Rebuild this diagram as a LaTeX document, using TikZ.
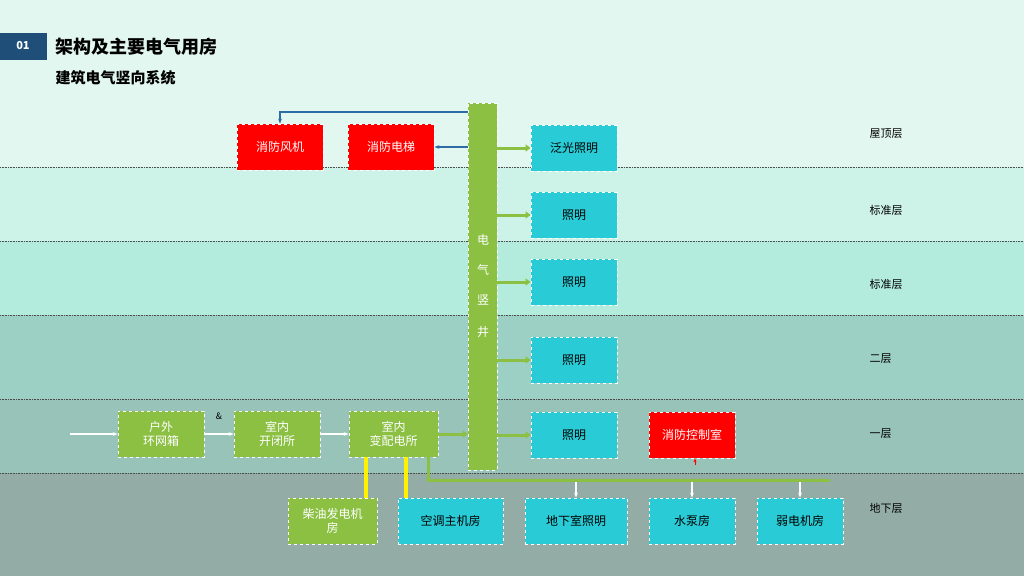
\documentclass[tikz,border=0pt]{standalone}
\usepackage{fontspec}
\setmainfont{Noto Sans CJK SC}
\usetikzlibrary{arrows.meta}
\definecolor{gr}{HTML}{8BC043}
\definecolor{cy}{HTML}{29CCD6}
\definecolor{rd}{HTML}{FF0000}
\definecolor{bl}{HTML}{2E6DA4}
\definecolor{nb}{HTML}{1F4E79}
\definecolor{b1}{HTML}{E3F7F1}
\definecolor{b2}{HTML}{CDF3E8}
\definecolor{b3}{HTML}{B3ECDD}
\definecolor{b4}{HTML}{9DD0C4}
\definecolor{b5}{HTML}{97C3B8}
\definecolor{b6}{HTML}{93ADA6}
\begin{document}
\begin{tikzpicture}[x=1pt,y=-1pt,
 box/.style={draw=white,dashed,line width=0.8pt,minimum width=#1,minimum height=46pt,inner sep=0pt,font=\fontsize{12}{14}\selectfont,align=center},
 gbox/.style={box=#1,fill=gr,text=white},
 cbox/.style={box=#1,fill=cy,text=black},
 rbox/.style={box=#1,fill=rd,text=white},
 ga/.style={gr,line width=3pt,-{Triangle[length=5pt,width=7pt]}},
 wa/.style={white,line width=1.2pt,-{Stealth[length=5pt]}},
 fl/.style={font=\fontsize{11}{13}\selectfont,anchor=west},
 sep/.style={densely dotted,black!70,line width=0.6pt}]
\useasboundingbox (0,0) rectangle (1024,576);
\fill[b1] (0,0) rectangle (1024,167);
\fill[b2] (0,167) rectangle (1024,241);
\fill[b3] (0,241) rectangle (1024,315);
\fill[b4] (0,315) rectangle (1024,399);
\fill[b5] (0,399) rectangle (1024,473);
\fill[b6] (0,473) rectangle (1024,576);
\foreach \y in {167,241,315,399,473} \draw[sep] (0,\y) -- (1024,\y);
\fill[nb] (0,33) rectangle (47,60);
\node[text=white,font=\fontsize{11}{13}\selectfont\bfseries] (num) at (23,46) {01};
\node[anchor=west,font=\fontsize{18}{20}\selectfont\bfseries] (t1) at (52,47) {架构及主要电气用房};
\node[anchor=west,font=\fontsize{15}{17}\selectfont\bfseries] (t2) at (52,78) {建筑电气竖向系统};
% shaft
\node[draw=white,dashed,fill=gr,minimum width=29pt,minimum height=367pt,inner sep=0pt] (sh) at (482.5,286.5) {};
\foreach \c/\y in {电/240,气/270,竖/300,井/332} \node[text=white,font=\fontsize{12}{14}\selectfont] at (483,\y) {\c};
% nodes
\node[rbox=86pt] (fj) at (280,147) {消防风机};
\node[rbox=86pt] (dt) at (391,147) {消防电梯};
\node[cbox=86pt] (fg) at (574,148) {泛光照明};
\node[cbox=86pt] (z1) at (574,215) {照明};
\node[cbox=86pt] (z2) at (574,282) {照明};
\node[cbox=86pt] (z3) at (574,360) {照明};
\node[cbox=86pt] (z4) at (574,435) {照明};
\node[rbox=86pt] (kz) at (692,435) {消防控制室};
\node[gbox=86pt] (hw) at (161,434) {户外\\环网箱};
\node[gbox=86pt] (kb) at (277,434) {室内\\开闭所};
\node[gbox=89pt] (bp) at (393.5,434) {室内\\变配电所};
\node[gbox=89pt] (cy) at (332.5,521) {柴油发电机\\房};
\node[cbox=105pt] (kt) at (450.5,521) {空调主机房};
\node[cbox=102pt] (dx) at (576,521) {地下室照明};
\node[cbox=86pt] (sb) at (692,521) {水泵房};
\node[cbox=86pt] (rd) at (800,521) {弱电机房};
\foreach \t/\y in {屋顶层/134,标准层/210,标准层/284,二层/359,一层/434,地下层/508} \node[fl] at (866,\y) {\t};
% connectors
\coordinate (in) at (70,434);
\draw[wa] (in) -- (hw.west);
\draw[wa] (hw.east) -- (kb.west);
\draw[wa] (kb.east) -- (bp.west);
\node[font=\fontsize{9}{10}\selectfont] (amp) at (219,416) {\&};
\draw[ga] (bp.east) -- (sh.west|-bp.east);
\foreach \n in {fg,z1,z2,z3,z4} \draw[ga] (sh.east|-\n.west) -- (\n.west);
\draw[bl,line width=2pt,-{Stealth[length=5pt]}] (sh.west|-0,112) -| (fj.north);
\draw[bl,line width=2pt,-{Stealth[length=5pt]}] (sh.west|-dt.east) -- (dt.east);
\draw[yellow,line width=4pt] (bp.south-|366,0) -- (cy.north-|366,0);
\draw[yellow,line width=4pt] (bp.south-|406,0) -- (kt.north-|406,0);
\coordinate (ge) at (830,480);
\draw[gr,line width=3pt] (bp.south-|428,0) |- (ge);
\foreach \n in {dx,sb,rd} \draw[wa] (\n.north|-0,482) -- (\n.north);
\coordinate (ka) at (695,465);
\draw[rd,line width=1pt,-{Stealth[length=4pt]}] (ka) -- (kz.south-|ka);
\end{tikzpicture}
\end{document}
